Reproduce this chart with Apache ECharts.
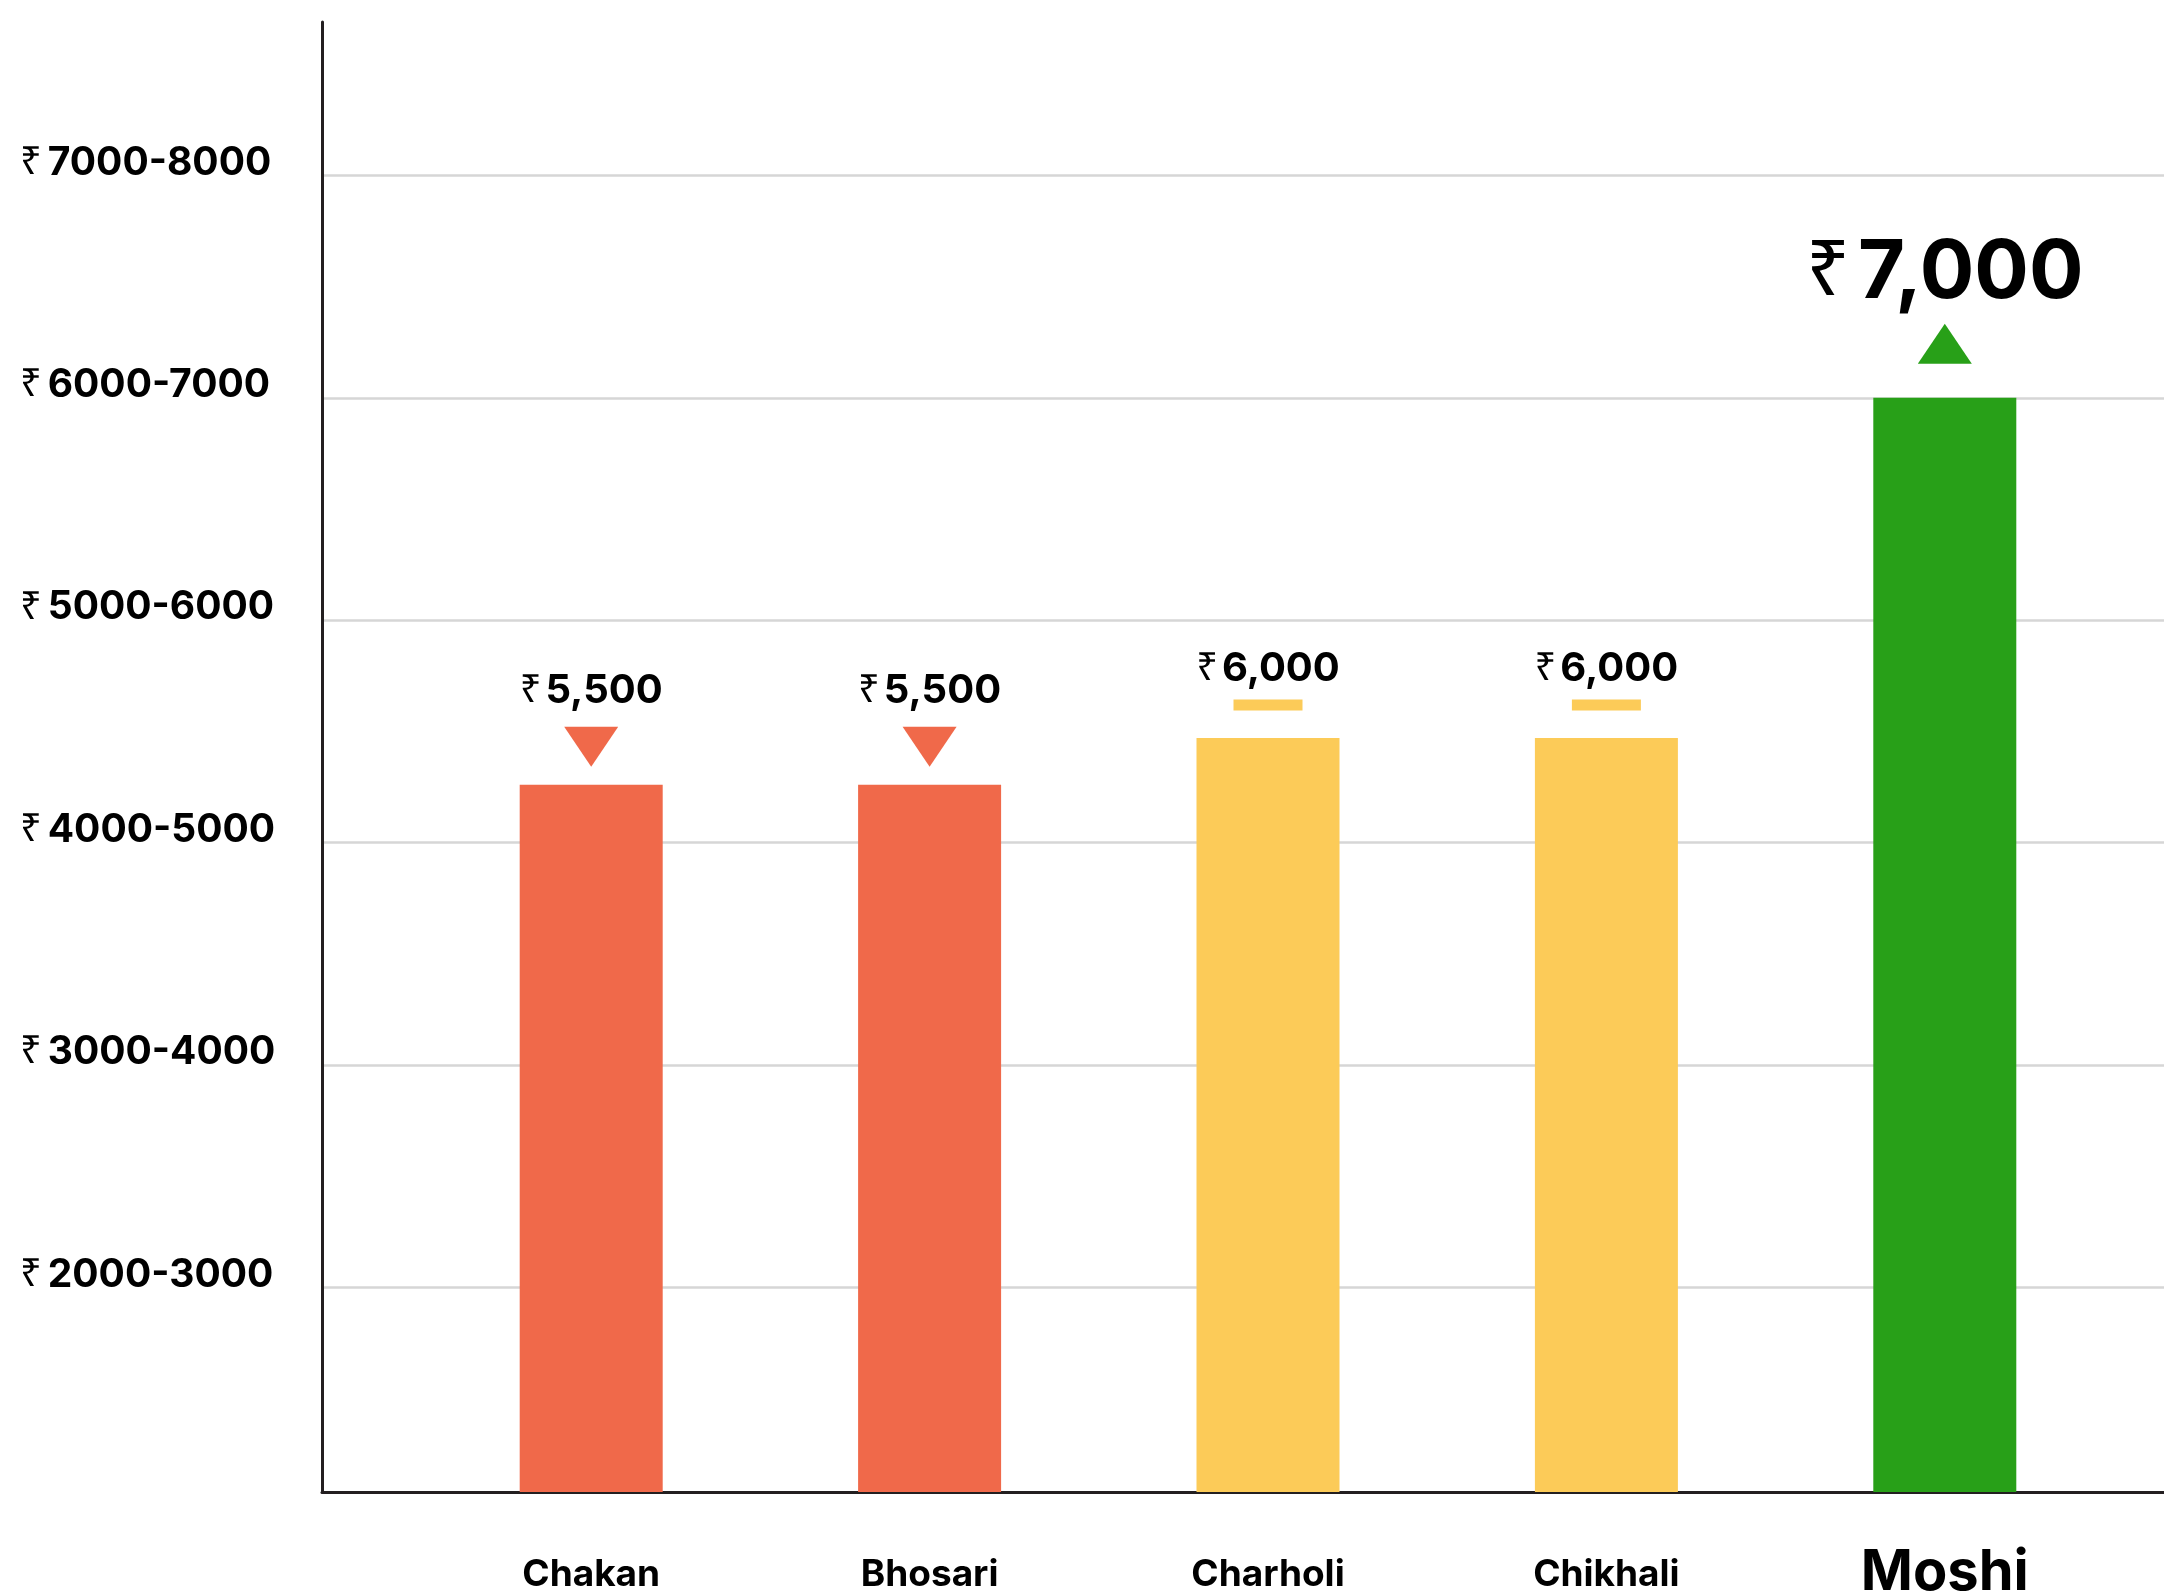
<!DOCTYPE html>
<html>
<head>
<meta charset="utf-8">
<script src="https://cdn.jsdelivr.net/npm/echarts@6/dist/echarts.min.js"></script>
<style>
html,body{margin:0;padding:0;background:#fff;}
#chart{width:2164px;height:1593px;}
</style>
</head>
<body>
<div id="chart"></div>
<script>
// ---- data ----
const categories = ['Chakan', 'Bhosari', 'Charholi', 'Chikhali', 'Moshi'];
const prices = [5500, 5500, 6000, 6000, 7000];          // label values (₹ per sq ft)
const barHeights = [5260, 5260, 5470, 5470, 7000];      // bar tops read against the axis scale
const trends = ['down', 'down', 'flat', 'flat', 'up'];
const yTickValues = [3000, 4000, 5000, 6000, 7000, 8000];
const yTickLabels = ['2000-3000', '3000-4000', '4000-5000', '5000-6000', '6000-7000', '7000-8000'];
const highlighted = 'Moshi';

// ---- styles ----
const FONT = 'Inter';
const trendStyle = {
  down: { color: '#F0694A', symbol: 'triangle', rotate: 180, size: [54, 40], offset: [0, -38], labelDist: 74, fontSize: 40 },
  flat: { color: '#FCCB58', symbol: 'rect', rotate: 0, size: [69, 11], offset: [0, -33], labelDist: 49, fontSize: 40 },
  up:   { color: '#28A018', symbol: 'triangle', rotate: 0, size: [54, 40], offset: [0, -54], labelDist: 84, fontSize: 81 }
};
const Y_MIN = 2080, Y_MAX = 8690;

const chart = echarts.init(document.getElementById('chart'), null, { renderer: 'canvas' });

const barData = barHeights.map((v, i) => {
  const s = trendStyle[trends[i]];
  const fs = s.fontSize;
  return {
    value: v,
    itemStyle: { color: s.color },
    label: {
      show: true,
      position: 'top',
      distance: s.labelDist,
      formatter: '{r|₹}{v|' + prices[i].toLocaleString('en-US') + '}',
      rich: {
        r: { fontFamily: '"Noto Sans"', fontWeight: 'normal', fontSize: fs * 0.95, lineHeight: fs, color: '#000', padding: [0, fs * 0.1, 0, 0] },
        v: { fontFamily: FONT, fontWeight: 'bold', fontSize: fs, lineHeight: fs, color: '#000' }
      }
    }
  };
});

const markerData = barHeights.map((v, i) => {
  const s = trendStyle[trends[i]];
  return {
    value: [categories[i], v],
    symbol: s.symbol,
    symbolRotate: s.rotate,
    symbolSize: s.size,
    symbolOffset: s.offset,
    itemStyle: { color: s.color, opacity: 1 }
  };
});

const option = {
  backgroundColor: '#ffffff',
  animation: false,
  grid: [
    { left: 322, right: 0, top: 22, bottom: 101, outerBoundsMode: 'none', containLabel: false },
    { left: 422, right: 50, top: 22, bottom: 101, outerBoundsMode: 'none', containLabel: false }
  ],
  xAxis: [
    {
      gridIndex: 0, type: 'category', data: [''],
      axisLine: { show: true, onZero: false, lineStyle: { color: '#231F20', width: 3 } },
      axisTick: { show: false }, axisLabel: { show: false }, splitLine: { show: false }
    },
    {
      gridIndex: 1, type: 'category', data: categories,
      axisLine: { show: false }, axisTick: { show: false },
      axisLabel: {
        show: true, margin: 53, interval: 0,
        formatter: c => (c === highlighted ? '{b|' : '{a|') + c + '}',
        rich: {
          a: { fontFamily: FONT, fontWeight: 'bold', fontSize: 37, lineHeight: 37, color: '#000', padding: [23, 0, 0, 0] },
          b: { fontFamily: FONT, fontWeight: 'bold', fontSize: 56, lineHeight: 56, color: '#000' }
        }
      }
    }
  ],
  yAxis: [
    {
      gridIndex: 0, type: 'value', min: Y_MIN, max: Y_MAX,
      axisLine: { show: true, lineStyle: { color: '#231F20', width: 3 } },
      axisTick: { show: false, customValues: yTickValues },
      splitLine: { show: true, lineStyle: { color: '#D6D6D6', width: 2.5 } },
      axisLabel: {
        show: true, customValues: yTickValues, align: 'left', margin: 302,
        verticalAlign: 'middle', padding: [0, 0, 25, 0],
        formatter: v => {
          const idx = yTickValues.indexOf(v);
          return idx >= 0 ? '{r|₹}{v|' + yTickLabels[idx] + '}' : '';
        },
        rich: {
          r: { fontFamily: '"Noto Sans"', fontWeight: 'normal', fontSize: 38, lineHeight: 39, color: '#000', padding: [0, 6, 0, 0] },
          v: { fontFamily: FONT, fontWeight: 'bold', fontSize: 39, lineHeight: 39, color: '#000' }
        }
      }
    },
    {
      gridIndex: 1, type: 'value', min: Y_MIN, max: Y_MAX,
      axisLine: { show: false }, axisTick: { show: false }, axisLabel: { show: false }, splitLine: { show: false }
    }
  ],
  series: [
    {
      type: 'bar', xAxisIndex: 1, yAxisIndex: 1, barWidth: 143,
      data: barData, z: 3
    },
    {
      type: 'scatter', xAxisIndex: 1, yAxisIndex: 1,
      data: markerData, z: 4, silent: true
    }
  ]
};

chart.setOption(option);
</script>
</body>
</html>
